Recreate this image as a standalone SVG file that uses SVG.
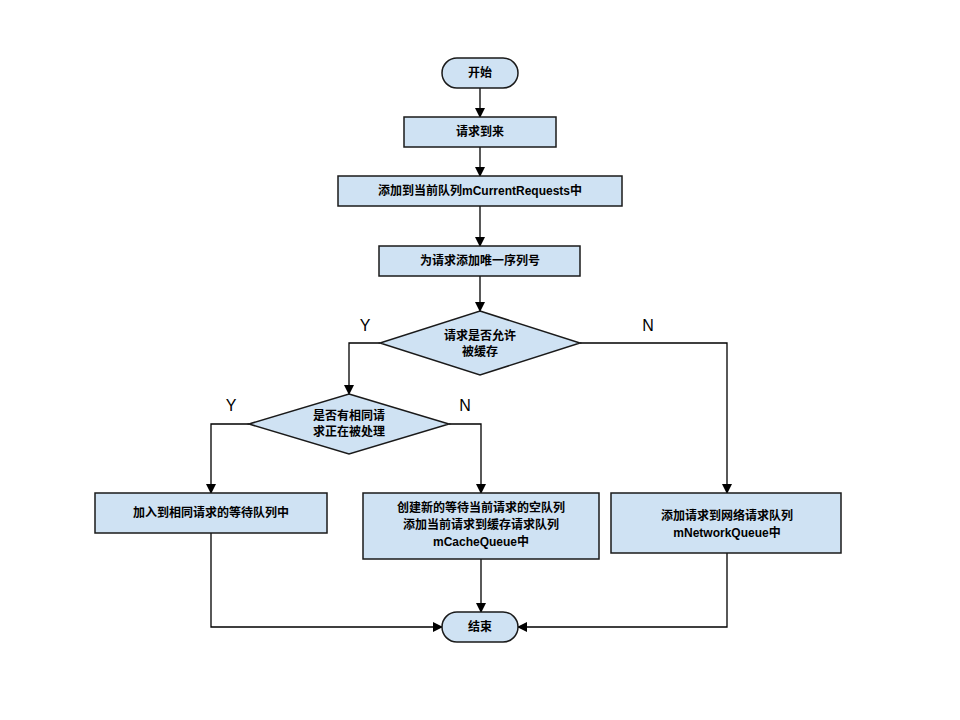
<svg xmlns="http://www.w3.org/2000/svg" width="960" height="720" viewBox="0 0 960 720">
<style>
.n{fill:#cfe2f3;stroke:#1a1a1a;stroke-width:1.5}
.t{font-family:"Liberation Sans","Noto Sans CJK SC",sans-serif;font-size:12px;font-weight:bold;fill:#000;text-anchor:middle}
.l{font-family:"Liberation Sans",sans-serif;font-size:16px;fill:#000;text-anchor:middle}
.c{fill:none;stroke:#000;stroke-width:1.3;marker-end:url(#a)}
</style>
<defs><marker id="a" markerWidth="10" markerHeight="10" refX="9" refY="5" orient="auto" markerUnits="userSpaceOnUse"><path d="M0,0 L10,5 L0,10 z" fill="#000"/></marker></defs>
<rect width="960" height="720" fill="#fff"/>
<g id="connectors">
<path class="c" d="M480,88 V117"/>
<path class="c" d="M480,147 V176"/>
<path class="c" d="M480,206 V246"/>
<path class="c" d="M480,276 V311"/>
<path class="c" d="M380,343 H349 V394"/>
<path class="c" d="M580,343 H727 V493"/>
<path class="c" d="M249,424 H211 V493"/>
<path class="c" d="M449,424 H481 V493"/>
<path class="c" d="M211,533 V627 H442"/>
<path class="c" d="M481,559 V612"/>
<path class="c" d="M727,553 V627 H518"/>
<text class="l" x="365" y="331">Y</text>
<text class="l" x="648" y="331">N</text>
<text class="l" x="231" y="411">Y</text>
<text class="l" x="465" y="411">N</text>
</g>
<g id="start"><rect class="n" x="442" y="58" width="76" height="30" rx="15"/><text class="t" x="480" y="77">开始</text></g>
<g id="n1"><rect class="n" x="404" y="117" width="152" height="30"/><text class="t" x="480" y="136">请求到来</text></g>
<g id="n2"><rect class="n" x="338" y="176" width="284" height="30"/><text class="t" x="480" y="195">添加到当前队列mCurrentRequests中</text></g>
<g id="n3"><rect class="n" x="379" y="246" width="201" height="30"/><text class="t" x="480" y="265">为请求添加唯一序列号</text></g>
<g id="d1"><polygon class="n" points="480,311 580,343 480,375 380,343"/><text class="t" x="480" y="340">请求是否允许</text><text class="t" x="480" y="356">被缓存</text></g>
<g id="d2"><polygon class="n" points="349,394 449,424 349,454 249,424"/><text class="t" x="349" y="420">是否有相同请</text><text class="t" x="349" y="436">求正在被处理</text></g>
<g id="b1"><rect class="n" x="95" y="493" width="232" height="40"/><text class="t" x="211" y="517">加入到相同请求的等待队列中</text></g>
<g id="b2"><rect class="n" x="363" y="493" width="236" height="66"/><text class="t" x="481" y="512">创建新的等待当前请求的空队列</text><text class="t" x="481" y="529">添加当前请求到缓存请求队列</text><text class="t" x="481" y="546">mCacheQueue中</text></g>
<g id="b3"><rect class="n" x="611" y="493" width="230" height="60"/><text class="t" x="727" y="520">添加请求到网络请求队列</text><text class="t" x="727" y="537">mNetworkQueue中</text></g>
<g id="end"><rect class="n" x="442" y="612" width="76" height="30" rx="15"/><text class="t" x="480" y="631">结束</text></g>
</svg>
